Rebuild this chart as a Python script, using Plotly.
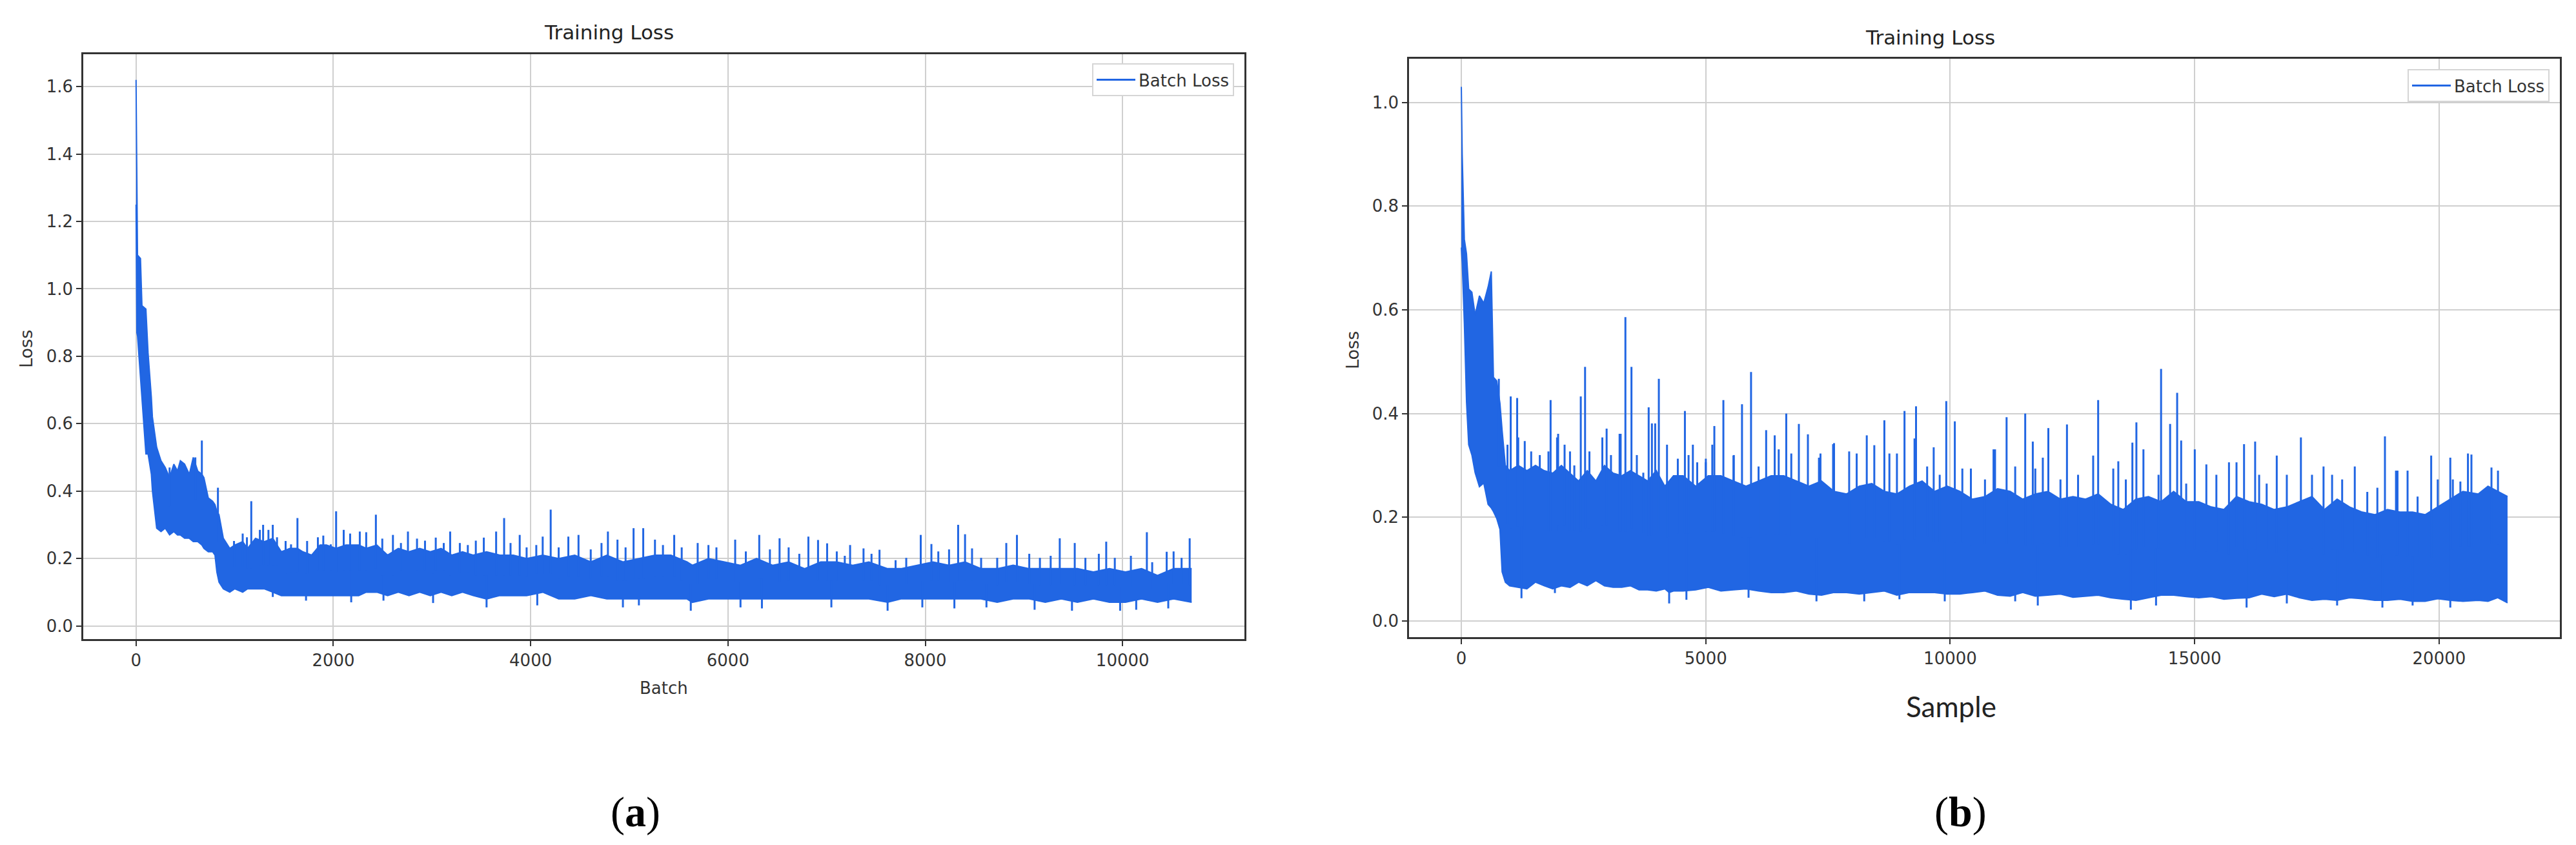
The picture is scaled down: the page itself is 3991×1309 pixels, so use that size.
import numpy as np
import plotly.graph_objects as go

# ---------------- Panel (a): loss per batch (envelope) ----------------
a_batch = [
    0, 8, 15, 45, 60, 100, 122, 155, 166, 209,
    253, 296, 340, 383, 420, 449, 492, 540, 580, 625,
    667, 688, 732, 776, 800, 819, 841, 885, 950, 1000,
    1081, 1130, 1211, 1298, 1386, 1473, 1560, 1636, 1691, 1780,
    1865, 1930, 2028, 2126, 2257, 2333, 2441, 2550, 2658, 2767,
    2875, 2983, 3092, 3200, 3309, 3417, 3553, 3688, 3824, 3959,
    4122, 4284, 4447, 4609, 4772, 4935, 5097, 5260, 5422, 5585,
    5639, 5802, 5964, 6127, 6290, 6452, 6615, 6777, 6940, 7103,
    7265, 7428, 7618, 7753, 7916, 8078, 8241, 8403, 8566, 8729,
    8891, 9054, 9216, 9379, 9542, 9704, 9867, 10029, 10192, 10354,
    10517, 10700]
a_upper = [
    1.62, 1.30, 1.10, 1.09, 0.95, 0.94, 0.81, 0.68, 0.62, 0.53,
    0.49, 0.47, 0.44, 0.48, 0.46, 0.49, 0.48, 0.45, 0.50, 0.46,
    0.45, 0.44, 0.38, 0.37, 0.36, 0.34, 0.33, 0.26, 0.23, 0.24,
    0.25, 0.23, 0.26, 0.25, 0.26, 0.22, 0.23, 0.23, 0.22, 0.21,
    0.24, 0.24, 0.23, 0.24, 0.24, 0.23, 0.24, 0.21, 0.23, 0.22,
    0.23, 0.22, 0.23, 0.21, 0.22, 0.21, 0.22, 0.21, 0.21, 0.20,
    0.21, 0.20, 0.21, 0.19, 0.21, 0.19, 0.20, 0.21, 0.21, 0.19,
    0.18, 0.20, 0.19, 0.18, 0.20, 0.18, 0.19, 0.17, 0.19, 0.19,
    0.18, 0.19, 0.17, 0.17, 0.18, 0.19, 0.18, 0.19, 0.17, 0.17,
    0.18, 0.17, 0.17, 0.17, 0.17, 0.16, 0.17, 0.16, 0.17, 0.15,
    0.17, 0.17]
a_lower = [
    1.25, 0.87, 0.86, 0.73, 0.67, 0.51, 0.51, 0.45, 0.40, 0.29,
    0.28, 0.29, 0.27, 0.28, 0.27, 0.27, 0.26, 0.26, 0.25, 0.25,
    0.24, 0.23, 0.22, 0.22, 0.21, 0.16, 0.13, 0.11, 0.10, 0.11,
    0.10, 0.11, 0.11, 0.11, 0.10, 0.09, 0.09, 0.09, 0.09, 0.09,
    0.09, 0.09, 0.09, 0.09, 0.09, 0.10, 0.10, 0.09, 0.10, 0.09,
    0.10, 0.09, 0.10, 0.09, 0.10, 0.09, 0.08, 0.09, 0.09, 0.09,
    0.10, 0.08, 0.08, 0.09, 0.08, 0.08, 0.08, 0.08, 0.08, 0.08,
    0.07, 0.08, 0.08, 0.08, 0.08, 0.08, 0.08, 0.08, 0.08, 0.08,
    0.08, 0.08, 0.07, 0.08, 0.08, 0.08, 0.08, 0.08, 0.08, 0.07,
    0.08, 0.08, 0.07, 0.08, 0.07, 0.08, 0.07, 0.07, 0.08, 0.07,
    0.08, 0.07]
# tall isolated peaks
a_spike_batch = [
    340, 601, 667, 830, 1168, 1288, 1386, 1636, 2028, 2268,
    2431, 2604, 2756, 3184, 3650, 3731, 3889, 4203, 4382, 4485,
    4783, 5043, 5141, 5455, 6317, 6523, 6815, 6913, 7005, 7238,
    7374, 7536, 7954, 8062, 8333, 8403, 8474, 8821, 8929, 9363,
    9515, 9834, 10246, 10447, 10680]
a_spike_loss = [
    0.47, 0.50, 0.55, 0.41, 0.37, 0.30, 0.30, 0.32, 0.34, 0.28,
    0.33, 0.27, 0.28, 0.28, 0.28, 0.32, 0.27, 0.345, 0.265, 0.27,
    0.28, 0.29, 0.29, 0.27, 0.27, 0.26, 0.265, 0.255, 0.245, 0.24,
    0.23, 0.226, 0.27, 0.243, 0.30, 0.272, 0.23, 0.246, 0.27, 0.26,
    0.246, 0.25, 0.278, 0.22, 0.26]
# smaller peaks along the top of the band
a_hair_batch = [
    993, 1081, 1124, 1255, 1342, 1429, 1516, 1571, 1734, 1843,
    1898, 1974, 2105, 2170, 2333, 2496, 2685, 2848, 2929, 3038,
    3119, 3282, 3363, 3444, 3525, 3796, 3959, 4057, 4122, 4284,
    4609, 4718, 4880, 4962, 5260, 5341, 5531, 5693, 5802, 5883,
    6073, 6181, 6425, 6615, 6723, 7103, 7184, 7455, 7699, 7807,
    8132, 8241, 8566, 8729, 9054, 9162, 9271, 9623, 9759, 9921,
    10084, 10300, 10517, 10598]
a_hair_loss = [
    0.252, 0.274, 0.263, 0.285, 0.285, 0.263, 0.252, 0.242, 0.252, 0.263,
    0.268, 0.242, 0.285, 0.274, 0.278, 0.259, 0.246, 0.259, 0.253, 0.262,
    0.246, 0.246, 0.240, 0.253, 0.262, 0.246, 0.233, 0.240, 0.265, 0.233,
    0.227, 0.246, 0.256, 0.233, 0.256, 0.240, 0.233, 0.246, 0.240, 0.233,
    0.256, 0.221, 0.227, 0.233, 0.214, 0.221, 0.208, 0.214, 0.195, 0.202,
    0.221, 0.227, 0.202, 0.202, 0.214, 0.202, 0.208, 0.202, 0.214, 0.202,
    0.208, 0.189, 0.221, 0.202]
# dips along the bottom of the band
a_dip_batch = [
    1386, 1723, 2181, 2508, 3011, 3553, 4067, 4935, 5097, 5623,
    6127, 6344, 7048, 7618, 7970, 8295, 8620, 9108, 9487, 9975,
    10138, 10463]
a_dip_loss = [
    0.086, 0.075, 0.070, 0.075, 0.068, 0.055, 0.061, 0.055, 0.061, 0.045,
    0.055, 0.052, 0.055, 0.045, 0.055, 0.052, 0.055, 0.048, 0.045, 0.045,
    0.048, 0.052]

# ---------------- Panel (b): loss per sample ----------------
b_sample = [
    0, 18, 62, 106, 150, 216, 282, 370, 459, 547,
    613, 657, 723, 790, 834, 900, 988, 1164, 1341, 1517,
    1693, 1870, 2046, 2223, 2399, 2575, 2752, 2928, 3105, 3281,
    3457, 3634, 3810, 3987, 4163, 4251, 4339, 4537, 4794, 5051,
    5309, 5566, 5823, 6080, 6338, 6595, 6852, 7110, 7367, 7624,
    7881, 8139, 8396, 8653, 8910, 9168, 9425, 9682, 9939, 10197,
    10454, 10711, 10968, 11226, 11483, 11740, 11997, 12255, 12512, 12769,
    13026, 13284, 13541, 13798, 14055, 14313, 14570, 14827, 15084, 15342,
    15599, 15856, 16113, 16371, 16627, 16885, 17142, 17400, 17656, 17914,
    18171, 18429, 18685, 18943, 19200, 19458, 19714, 19972, 20229, 20487,
    20800, 21000, 21200, 21400]
b_upper = [
    1.03, 0.90, 0.736, 0.708, 0.64, 0.634, 0.59, 0.627, 0.613, 0.644,
    0.674, 0.47, 0.463, 0.42, 0.368, 0.30, 0.29, 0.30, 0.29, 0.30,
    0.29, 0.285, 0.30, 0.285, 0.27, 0.29, 0.27, 0.30, 0.285, 0.28,
    0.29, 0.28, 0.27, 0.29, 0.26, 0.27, 0.28, 0.28, 0.26, 0.28,
    0.28, 0.27, 0.26, 0.27, 0.28, 0.28, 0.27, 0.26, 0.27, 0.25,
    0.245, 0.26, 0.265, 0.25, 0.245, 0.26, 0.27, 0.25, 0.26, 0.25,
    0.235, 0.24, 0.255, 0.25, 0.235, 0.245, 0.25, 0.235, 0.24, 0.235,
    0.245, 0.225, 0.215, 0.235, 0.24, 0.23, 0.25, 0.23, 0.23, 0.22,
    0.215, 0.24, 0.23, 0.225, 0.215, 0.22, 0.23, 0.24, 0.215, 0.235,
    0.22, 0.21, 0.205, 0.215, 0.21, 0.21, 0.205, 0.22, 0.235, 0.25,
    0.245, 0.26, 0.25, 0.24]
b_lower = [
    0.72, 0.69, 0.572, 0.422, 0.34, 0.32, 0.286, 0.259, 0.266, 0.225,
    0.218, 0.211, 0.198, 0.177, 0.095, 0.075, 0.068, 0.065, 0.062, 0.075,
    0.068, 0.062, 0.068, 0.065, 0.075, 0.068, 0.078, 0.068, 0.065, 0.065,
    0.068, 0.06, 0.06, 0.058, 0.062, 0.055, 0.058, 0.058, 0.06, 0.065,
    0.058, 0.06, 0.062, 0.058, 0.055, 0.055, 0.058, 0.052, 0.05, 0.055,
    0.055, 0.052, 0.055, 0.058, 0.05, 0.055, 0.055, 0.055, 0.052, 0.052,
    0.055, 0.058, 0.05, 0.048, 0.055, 0.048, 0.05, 0.052, 0.046, 0.048,
    0.05, 0.045, 0.042, 0.04, 0.045, 0.05, 0.05, 0.047, 0.045, 0.047,
    0.042, 0.044, 0.045, 0.052, 0.047, 0.052, 0.045, 0.04, 0.042, 0.04,
    0.045, 0.043, 0.04, 0.04, 0.042, 0.038, 0.038, 0.043, 0.04, 0.038,
    0.04, 0.038, 0.045, 0.035]
b_spike_sample = [
    767, 1010, 1142, 1826, 1980, 2443, 2531, 2972, 3259, 3356,
    3480, 3832, 3965, 4040, 4573, 4736, 5175, 5360, 5741, 5926,
    6235, 6410, 6646, 6904, 7089, 7346, 7604, 7933, 8293, 8653,
    8910, 9065, 9301, 9662, 9919, 10094, 10423, 10886, 11153, 11534,
    11689, 12007, 12388, 13026, 13438, 13726, 13808, 14313, 14498, 14642,
    14724, 15002, 15702, 16010, 16237, 16679, 17173, 17636, 18275, 18892,
    19118, 19838, 20281, 20590, 20661, 21071, 21204]
b_spike_loss = [
    0.467, 0.433, 0.43, 0.426, 0.361, 0.433, 0.49, 0.371, 0.361, 0.586,
    0.49, 0.412, 0.381, 0.467, 0.405, 0.34, 0.376, 0.426, 0.418, 0.48,
    0.368, 0.358, 0.40, 0.38, 0.36, 0.323, 0.341, 0.327, 0.358, 0.387,
    0.323, 0.405, 0.414, 0.335, 0.424, 0.385, 0.294, 0.331, 0.393, 0.40,
    0.346, 0.372, 0.379, 0.426, 0.308, 0.344, 0.383, 0.486, 0.38, 0.44,
    0.348, 0.331, 0.306, 0.341, 0.346, 0.319, 0.354, 0.298, 0.298, 0.356,
    0.29, 0.319, 0.273, 0.323, 0.321, 0.296, 0.29]
b_hair_sample = [
    944, 1164, 1297, 1429, 1605, 1782, 1958, 2112, 2223, 2311,
    2620, 2884, 3061, 3237, 3590, 3722, 3898, 4207, 4428, 4648,
    4825, 5001, 5133, 5574, 5000, 5566, 6080, 6492, 6749, 7315,
    7624, 8087, 8447, 8756, 9270, 9528, 9785, 10248, 10711, 10917,
    11329, 11740, 11894, 12255, 12615, 12924, 13335, 13592, 13952, 14261,
    14827, 15239, 15444, 15856, 16319, 16473, 16885, 17400, 17811, 18017,
    18531, 18737, 19149, 19355, 19560, 19972, 20229, 20435]
b_hair_loss = [
    0.34, 0.354, 0.347, 0.327, 0.32, 0.327, 0.354, 0.34, 0.327, 0.30,
    0.327, 0.354, 0.32, 0.361, 0.32, 0.286, 0.381, 0.34, 0.313, 0.32,
    0.306, 0.313, 0.34, 0.32, 0.306, 0.319, 0.298, 0.331, 0.323, 0.315,
    0.343, 0.323, 0.339, 0.323, 0.352, 0.298, 0.282, 0.294, 0.273, 0.331,
    0.298, 0.294, 0.315, 0.273, 0.282, 0.319, 0.294, 0.273, 0.331, 0.282,
    0.265, 0.302, 0.282, 0.306, 0.282, 0.265, 0.282, 0.282, 0.282, 0.273,
    0.249, 0.257, 0.29, 0.29, 0.24, 0.273, 0.315, 0.269]
b_dip_sample = [
    1230, 1914, 4251, 4604, 5875, 7264, 8241, 8961, 9888, 11329,
    11791, 13695, 14210, 16062, 16885, 17914, 18840, 19458, 20229]
b_dip_loss = [
    0.044, 0.054, 0.034, 0.041, 0.045, 0.038, 0.038, 0.042, 0.038, 0.038,
    0.030, 0.022, 0.030, 0.026, 0.034, 0.030, 0.026, 0.030, 0.026]

a_xticks = [0, 2000, 4000, 6000, 8000, 10000]
a_yticks = [0.0, 0.2, 0.4, 0.6, 0.8, 1.0, 1.2, 1.4, 1.6]
b_xticks = [0, 5000, 10000, 15000, 20000]
b_yticks = [0.0, 0.2, 0.4, 0.6, 0.8, 1.0]

BLUE = "#2166e3"
W, H = 3991, 1309
FONT = "DejaVu Sans"

fig = go.Figure()


def add_panel(xs, hi, lo, peaks_x, peaks_y, xa, ya, legend):
    fig.add_trace(go.Scatter(x=xs, y=lo, mode="lines", line=dict(color=BLUE, width=2),
                             xaxis=xa, yaxis=ya, showlegend=False, hoverinfo="skip"))
    fig.add_trace(go.Scatter(x=xs, y=hi, mode="lines", line=dict(color=BLUE, width=2),
                             fill="tonexty", fillcolor=BLUE,
                             xaxis=xa, yaxis=ya, showlegend=False, hoverinfo="skip"))
    xs_arr = np.array(xs)
    order = np.argsort(peaks_x, kind="stable")
    px, py = [], []
    for k in order:
        x, y = peaks_x[k], peaks_y[k]
        i = int(np.argmin(np.abs(xs_arr - x)))
        base = (hi[i] + lo[i]) / 2.0
        px += [x, x, None]
        py += [base, y, None]
    fig.add_trace(go.Scatter(x=px, y=py, mode="lines", line=dict(color=BLUE, width=3),
                             name="Batch Loss", xaxis=xa, yaxis=ya,
                             legend=legend, showlegend=True))


add_panel(a_batch, a_upper, a_lower,
          a_spike_batch + a_hair_batch + a_dip_batch,
          a_spike_loss + a_hair_loss + a_dip_loss, "x", "y", "legend")
add_panel(b_sample, b_upper, b_lower,
          b_spike_sample + b_hair_sample + b_dip_sample,
          b_spike_loss + b_hair_loss + b_dip_loss, "x2", "y2", "legend2")


def px_x(p):
    return p / W


def px_y(p):
    return 1 - p / H


axis_common = dict(showline=True, mirror=True, linecolor="#333333", linewidth=2.5,
                   ticks="outside", ticklen=8, tickwidth=2, tickcolor="#333333",
                   showgrid=True, gridcolor="#cfcfcf", gridwidth=2, zeroline=False,
                   tickfont=dict(family=FONT, size=26, color="#333333"))

legend_common = dict(xanchor="right", yanchor="top", bgcolor="white",
                     bordercolor="#d5d5d5", borderwidth=2, itemwidth=60,
                     font=dict(family=FONT, size=26, color="#333333"))

fig.update_layout(
    width=W, height=H, autosize=False,
    margin=dict(l=0, r=0, t=0, b=0),
    paper_bgcolor="white", plot_bgcolor="white",
    font=dict(family=FONT, color="#333333"),
    xaxis=dict(domain=[px_x(121), px_x(1920)], range=[-535, 11235],
               tickvals=a_xticks, ticktext=[str(v) for v in a_xticks], anchor="y", **axis_common),
    yaxis=dict(domain=[px_y(982), px_y(76)], range=[-0.039, 1.696],
               tickvals=a_yticks, ticktext=[f"{v:.1f}" for v in a_yticks], anchor="x", **axis_common),
    xaxis2=dict(domain=[px_x(2175), px_x(3958)], range=[-1070, 22470],
                tickvals=b_xticks, ticktext=[str(v) for v in b_xticks], anchor="y2", **axis_common),
    yaxis2=dict(domain=[px_y(979), px_y(83)], range=[-0.031, 1.084],
                tickvals=b_yticks, ticktext=[f"{v:.1f}" for v in b_yticks], anchor="x2", **axis_common),
    legend=dict(x=px_x(1904), y=px_y(90), **legend_common),
    legend2=dict(x=px_x(3942), y=px_y(99), **legend_common),
)

annots = [
    dict(text="Training Loss", x=px_x(935), y=px_y(42), size=31, family=FONT, color="#222222"),
    dict(text="Training Loss", x=px_x(2982), y=px_y(50), size=31, family=FONT, color="#222222"),
    dict(text="Batch", x=px_x(1020), y=px_y(1058), size=26, family=FONT, color="#333333"),
    dict(text="Sample", x=px_x(3015), y=px_y(1086), size=44, family="Lato", color="#222222"),
    dict(text="Loss", x=px_x(33), y=px_y(533), size=27, family=FONT, color="#333333", angle=-90),
    dict(text="Loss", x=px_x(2088), y=px_y(535), size=27, family=FONT, color="#333333", angle=-90),
    dict(text="(<b>a</b>)", x=px_x(976), y=px_y(1250), size=66, family="Liberation Serif", color="#000000"),
    dict(text="(<b>b</b>)", x=px_x(3029), y=px_y(1250), size=66, family="Liberation Serif", color="#000000"),
]
for a in annots:
    fig.add_annotation(text=a["text"], x=a["x"], y=a["y"], xref="paper", yref="paper",
                       xanchor="center", yanchor="middle", showarrow=False,
                       textangle=a.get("angle", 0),
                       font=dict(family=a["family"], size=a["size"], color=a["color"]))

fig.write_html("out.html")
